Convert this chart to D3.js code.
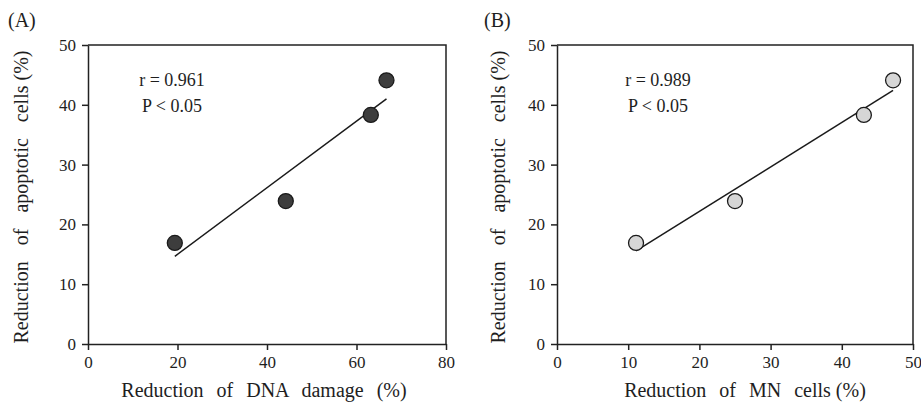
<!DOCTYPE html>
<html>
<head>
<meta charset="utf-8">
<script src="https://cdn.jsdelivr.net/npm/d3@7"></script>
<style>
  html, body { margin: 0; padding: 0; background: #fff; }
  svg { display: block; }
  text { font-family: "Liberation Serif", "Times New Roman", serif; fill: #1e1e1e; }
</style>
</head>
<body>
<svg id="chart" width="921" height="406"></svg>
<script>
// Reduction of apoptotic cells (%) shared by both panels
const apoptosisReduction = [16.9, 23.9, 38.3, 44.1];
// Panel A: reduction of DNA damage (%)
const dnaDamageReduction = [19.4, 44.2, 63.2, 66.7];
// Panel B: reduction of micronucleated cells (%)
const mnCellReduction = [11.1, 25.0, 43.1, 47.2];

const yTicks = [0, 10, 20, 30, 40, 50];
const xTicksA = [0, 20, 40, 60, 80];
const xTicksB = [0, 10, 20, 30, 40, 50];

const panelLabels = ["(A)", "(B)"];
const statsA = ["r = 0.961", "P < 0.05"];
const statsB = ["r = 0.989", "P < 0.05"];
const xTitles = ["Reduction of DNA damage (%)", "Reduction of MN cells (%)"];
const yTitle = "Reduction of apoptotic cells (%)";

const svg = d3.select("#chart");

const panels = [
  { label: panelLabels[0], xs: dnaDamageReduction, xDomain: [0, 80], xTicks: xTicksA,
    left: 88, right: 446, labelX: 8, yTitleX: 28, fill: "#3d3d3d", stats: statsA, statX: 172,
    xTitle: xTitles[0], xTitleX: 264, xTight: 5 },
  { label: panelLabels[1], xs: mnCellReduction, xDomain: [0, 50], xTicks: xTicksB,
    left: 557, right: 913, labelX: 484, yTitleX: 505, fill: "#d6d6d6", stats: statsB, statX: 658,
    xTitle: xTitles[1], xTitleX: 745, xTight: 3 }
];

const plotTop = 45, plotBottom = 344;

// Ordinary least squares fit
function fit(xs, ys) {
  const mx = d3.mean(xs), my = d3.mean(ys);
  let sxy = 0, sxx = 0;
  xs.forEach((x, i) => { sxy += (x - mx) * (ys[i] - my); sxx += (x - mx) * (x - mx); });
  const slope = sxy / sxx;
  return { slope, intercept: my - slope * mx };
}

// Title with widened gaps between the leading words; words from index `tight` keep normal spacing
function spacedTitle(sel, text, tight, gap) {
  const words = text.split(" ");
  const head = words.slice(0, tight).join(" ");
  const tail = words.slice(tight).join(" ");
  sel.append("tspan").attr("word-spacing", gap).text(tail ? head + " " : head);
  if (tail) sel.append("tspan").attr("word-spacing", 0).text(tail);
}

panels.forEach(p => {
  const x = d3.scaleLinear().domain(p.xDomain).range([p.left, p.right]);
  const y = d3.scaleLinear().domain([0, 50]).range([plotBottom, plotTop]);
  const g = svg.append("g");

  // frame: top and right edges
  g.append("path")
    .attr("d", `M${p.left},${plotTop}H${p.right}V${plotBottom}`)
    .attr("fill", "none").attr("stroke", "#222").attr("stroke-width", 1.5);

  const xAxis = g.append("g").attr("transform", `translate(0,${plotBottom})`)
    .call(d3.axisBottom(x).tickValues(p.xTicks).tickSize(6).tickSizeOuter(0).tickPadding(6));
  const yAxis = g.append("g").attr("transform", `translate(${p.left},0)`)
    .call(d3.axisLeft(y).tickValues(yTicks).tickSize(6).tickSizeOuter(0).tickPadding(6));

  [xAxis, yAxis].forEach(a => {
    a.attr("font-family", null);
    a.select(".domain").attr("stroke", "#222").attr("stroke-width", 1.5);
    a.selectAll(".tick line").attr("stroke", "#222").attr("stroke-width", 1.5);
    a.selectAll(".tick text").attr("font-size", 17).attr("fill", "#2a2a2a");
  });

  // regression line over the range of the data
  const f = fit(p.xs, apoptosisReduction);
  const [x0, x1] = d3.extent(p.xs);
  g.append("line")
    .attr("x1", x(x0)).attr("y1", y(f.intercept + f.slope * x0))
    .attr("x2", x(x1)).attr("y2", y(f.intercept + f.slope * x1))
    .attr("stroke", "#1a1a1a").attr("stroke-width", 1.5);

  // data points
  g.selectAll("circle").data(p.xs).join("circle")
    .attr("cx", d => x(d))
    .attr("cy", (d, i) => y(apoptosisReduction[i]))
    .attr("r", 7.5)
    .attr("fill", p.fill).attr("stroke", "#1a1a1a").attr("stroke-width", 1.3);

  // correlation annotation
  g.selectAll("text.stat").data(p.stats).join("text")
    .attr("class", "stat")
    .attr("x", p.statX).attr("y", (d, i) => 86 + i * 26)
    .attr("text-anchor", "middle").attr("font-size", 18)
    .text(d => d);

  // panel label
  g.append("text").attr("x", p.labelX).attr("y", 27).attr("font-size", 20).text(p.label);

  // axis titles
  g.append("text")
    .attr("x", p.xTitleX).attr("y", 397)
    .attr("text-anchor", "middle").attr("font-size", 20)
    .call(spacedTitle, p.xTitle, p.xTight, 8);
  g.append("text")
    .attr("transform", `translate(${p.yTitleX},197) rotate(-90)`)
    .attr("text-anchor", "middle").attr("font-size", 20)
    .call(spacedTitle, yTitle, 3, 11);
});
</script>
</body>
</html>
